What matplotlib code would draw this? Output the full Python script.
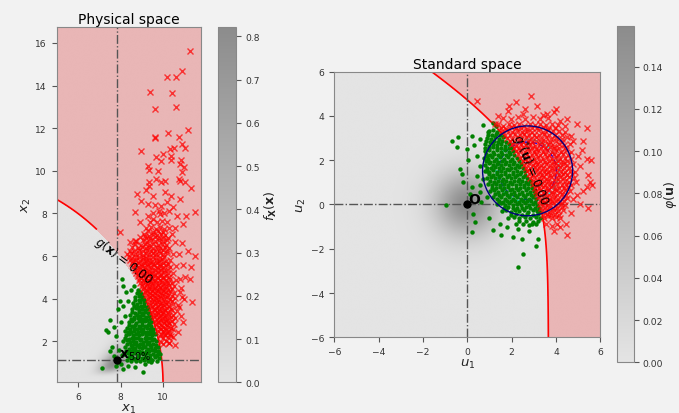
import numpy as np
import matplotlib
matplotlib.use("Agg")
import matplotlib.pyplot as plt
from matplotlib.colors import LinearSegmentedColormap
from matplotlib.patches import Circle

# probabilistic model (medians, log-std, correlation)
x1_median, x1_sigma = 7.83, 0.0668
x2_median, x2_sigma = 1.14, 0.412
rho = 0.49
radius = 10.0  # g(x) = r^2 - x1^2 - x2^2

# importance sampling circles in standard space
is_center = (2.72, 1.52)
is_radii = [2.03, 1.30, 1.42]
is_colors = ["navy", "blue", "cyan"]
is_styles = ["-", "--", "--"]

# samples in physical space: safe (green) and failed (red)
phys_safe = np.array([
    [7.50, 3.02], [7.30, 2.53], [7.42, 2.42], [7.70, 2.66], [7.81, 2.26], [7.89, 3.52], [8.05, 4.92],
    [8.12, 4.61], [8.28, 4.30], [7.97, 3.91], [8.12, 3.67], [7.58, 1.72], [7.50, 1.56], [7.11, 0.75],
    [7.81, 0.86], [7.89, 1.02], [8.12, 0.70], [8.36, 0.86], [8.67, 0.81], [9.06, 0.55], [8.75, 1.09],
    [9.14, 0.94], [9.45, 1.02], [9.61, 1.30], [9.76, 1.49], [8.00, 2.90], [7.95, 1.60], [8.20, 3.20],
    [8.35, 3.90], [8.50, 4.40], [8.65, 4.60], [8.20, 2.50], [8.05, 1.35], [7.70, 1.30], [8.00, 0.95],
    [8.30, 1.12], [8.50, 1.06], [8.70, 1.15], [8.90, 1.08], [9.10, 1.14], [9.30, 1.07], [9.50, 1.13], [9.70, 1.10],
    [8.40, 1.26], [8.60, 1.23], [8.80, 1.28], [9.00, 1.24], [9.20, 1.27], [9.40, 1.22], [9.60, 1.26], [9.80, 1.24],
    [8.15, 1.40], [8.35, 1.45], [8.50, 1.37], [8.65, 1.44], [8.80, 1.38], [8.95, 1.45], [9.10, 1.39],
    [9.25, 1.44], [9.40, 1.37], [9.55, 1.43], [9.70, 1.38], [9.85, 1.42],
    [8.28, 1.56], [8.43, 1.53], [8.58, 1.58], [8.73, 1.54], [8.88, 1.57], [9.03, 1.52], [9.18, 1.56],
    [9.33, 1.54], [9.48, 1.58], [9.63, 1.53], [9.78, 1.56],
    [8.20, 1.72], [8.40, 1.66], [8.55, 1.73], [8.70, 1.67], [8.85, 1.74], [9.00, 1.68], [9.15, 1.73],
    [9.30, 1.66], [9.45, 1.72], [9.60, 1.67], [9.75, 1.73],
    [8.30, 1.86], [8.48, 1.83], [8.63, 1.88], [8.78, 1.84], [8.93, 1.87], [9.08, 1.82], [9.23, 1.86],
    [9.38, 1.84], [9.53, 1.88], [9.68, 1.83],
    [8.10, 2.00], [8.30, 2.05], [8.45, 1.98], [8.60, 2.04], [8.75, 1.97], [8.90, 2.05], [9.05, 1.99],
    [9.20, 2.04], [9.35, 1.98], [9.50, 2.05], [9.65, 2.00],
    [8.20, 2.16], [8.38, 2.13], [8.53, 2.18], [8.68, 2.14], [8.83, 2.17], [8.98, 2.12], [9.13, 2.16],
    [9.28, 2.14], [9.43, 2.18], [9.58, 2.13],
    [8.25, 2.30], [8.42, 2.36], [8.58, 2.28], [8.73, 2.35], [8.88, 2.29], [9.03, 2.36], [9.18, 2.30],
    [9.33, 2.35], [9.48, 2.28], [9.60, 2.33],
    [8.35, 2.46], [8.50, 2.43], [8.65, 2.48], [8.80, 2.44], [8.95, 2.47], [9.10, 2.42], [9.25, 2.46],
    [9.40, 2.44], [9.55, 2.46],
    [8.30, 2.62], [8.47, 2.56], [8.63, 2.64], [8.78, 2.57], [8.93, 2.63], [9.08, 2.58], [9.23, 2.64],
    [9.38, 2.57], [9.52, 2.60],
    [8.40, 2.76], [8.55, 2.73], [8.70, 2.78], [8.85, 2.74], [9.00, 2.77], [9.15, 2.72], [9.30, 2.76], [9.45, 2.74],
    [8.40, 2.90], [8.56, 2.96], [8.72, 2.88], [8.87, 2.95], [9.02, 2.89], [9.17, 2.95], [9.32, 2.88], [9.45, 2.92],
    [8.50, 3.06], [8.65, 3.03], [8.80, 3.08], [8.95, 3.04], [9.10, 3.07], [9.25, 3.02], [9.40, 3.04],
    [8.45, 3.22], [8.62, 3.16], [8.78, 3.24], [8.93, 3.17], [9.08, 3.23], [9.22, 3.16], [9.36, 3.20],
    [8.55, 3.36], [8.70, 3.33], [8.85, 3.38], [9.00, 3.34], [9.15, 3.37], [9.30, 3.32],
    [8.55, 3.50], [8.72, 3.56], [8.88, 3.48], [9.03, 3.54], [9.17, 3.47], [9.30, 3.50],
    [8.62, 3.66], [8.80, 3.63], [8.96, 3.68], [9.12, 3.64], [9.24, 3.62],
    [8.60, 3.82], [8.78, 3.76], [8.94, 3.84], [9.10, 3.78],
    [8.70, 3.96], [8.86, 3.93], [9.00, 3.98], [9.12, 3.94],
    [8.70, 4.10], [8.88, 4.14], [9.02, 4.08], [8.78, 4.26], [8.95, 4.22], [8.80, 4.42], [8.90, 4.30],
])

phys_fail = np.array([
    [11.28, 15.61], [10.89, 14.69], [10.59, 14.42], [10.17, 14.39], [9.41, 13.68], [10.41, 13.63],
    [9.64, 12.89], [10.59, 13.00], [11.17, 11.94], [10.25, 11.77], [10.75, 11.61], [9.61, 11.61],
    [9.63, 11.53], [8.98, 10.94], [10.91, 11.25], [11.01, 11.05], [10.51, 11.05], [10.31, 11.02],
    [9.99, 10.78], [10.36, 10.70], [9.69, 10.63], [9.92, 10.47], [10.36, 10.52], [9.31, 10.23],
    [9.34, 10.05], [9.76, 10.00], [10.83, 10.52], [10.78, 10.31], [10.97, 10.16], [10.89, 9.93],
    [9.66, 9.61], [9.92, 9.46], [10.08, 9.53], [10.75, 9.61], [11.01, 9.46], [11.33, 9.19],
    [9.34, 9.46], [9.34, 9.27], [10.78, 9.53], [8.78, 8.91], [8.98, 8.59], [9.29, 8.44], [8.67, 8.05],
    [8.91, 7.58], [9.29, 7.89], [9.53, 7.74], [9.84, 7.97], [10.19, 8.52], [10.28, 8.13], [10.08, 8.99],
    [10.39, 8.83], [10.78, 8.67], [10.65, 7.89], [10.94, 7.50], [11.09, 7.89], [11.48, 8.05],
    [7.97, 7.14], [8.44, 6.64], [8.67, 6.72], [8.91, 6.88], [9.14, 6.95], [11.17, 6.25], [11.48, 6.02],
    [11.33, 5.47], [11.01, 5.00], [10.78, 4.92], [11.25, 4.92], [11.34, 3.83], [9.20, 9.10], [9.55, 8.80],
    [10.45, 8.30], [10.55, 7.30], [10.90, 6.60], [10.75, 6.10], [10.95, 5.60], [10.85, 4.50], [11.00, 4.00],
    [10.75, 3.60], [10.95, 2.90], [10.45, 2.20], [10.58, 1.84], [10.30, 1.90],
    [9.90, 1.95], [10.02, 1.88], [10.15, 2.00], [10.30, 1.93],
    [9.86, 2.25], [9.98, 2.18], [10.10, 2.30], [10.22, 2.20], [10.38, 2.27],
    [9.92, 2.36], [10.05, 2.33], [10.18, 2.38], [10.32, 2.34],
    [9.78, 2.50], [9.90, 2.56], [10.02, 2.47], [10.14, 2.55], [10.27, 2.50], [10.45, 2.58], [10.70, 2.45],
    [9.74, 2.66], [9.86, 2.63], [9.98, 2.68], [10.10, 2.64], [10.23, 2.67], [10.38, 2.62],
    [9.68, 2.80], [9.80, 2.86], [9.92, 2.77], [10.04, 2.84], [10.17, 2.78], [10.30, 2.87], [10.50, 2.80],
    [9.64, 2.96], [9.76, 2.93], [9.88, 2.98], [10.00, 2.94], [10.12, 2.97], [10.25, 2.92], [10.42, 2.96],
    [9.58, 3.12], [9.70, 3.06], [9.82, 3.15], [9.95, 3.08], [10.07, 3.14], [10.20, 3.05], [10.36, 3.12],
    [10.58, 3.10], [10.85, 3.20],
    [9.54, 3.26], [9.66, 3.23], [9.78, 3.28], [9.90, 3.24], [10.02, 3.27], [10.15, 3.22], [10.30, 3.26], [10.48, 3.24],
    [9.48, 3.40], [9.60, 3.46], [9.72, 3.37], [9.85, 3.44], [9.98, 3.38], [10.10, 3.46], [10.24, 3.39],
    [10.40, 3.45], [10.65, 3.42],
    [9.44, 3.56], [9.56, 3.53], [9.68, 3.58], [9.80, 3.54], [9.92, 3.57], [10.05, 3.52], [10.20, 3.56], [10.36, 3.54],
    [9.38, 3.72], [9.50, 3.66], [9.62, 3.75], [9.75, 3.68], [9.88, 3.76], [10.00, 3.69], [10.13, 3.74],
    [10.28, 3.67], [10.47, 3.74], [10.72, 3.70],
    [9.34, 3.86], [9.46, 3.83], [9.58, 3.88], [9.70, 3.84], [9.82, 3.87], [9.95, 3.82], [10.08, 3.86],
    [10.22, 3.84], [10.40, 3.88],
    [9.28, 4.00], [9.40, 4.06], [9.52, 3.98], [9.65, 4.05], [9.78, 3.97], [9.90, 4.04], [10.03, 3.99],
    [10.17, 4.07], [10.33, 4.00], [10.55, 4.03], [10.90, 4.10],
    [9.22, 4.16], [9.34, 4.13], [9.46, 4.18], [9.58, 4.14], [9.71, 4.17], [9.84, 4.12], [9.97, 4.16],
    [10.10, 4.14], [10.25, 4.18], [10.44, 4.14],
    [9.14, 4.30], [9.26, 4.36], [9.38, 4.28], [9.50, 4.35], [9.63, 4.27], [9.76, 4.34], [9.89, 4.29],
    [10.02, 4.36], [10.16, 4.30], [10.32, 4.35], [10.52, 4.28], [10.80, 4.33],
    [9.08, 4.46], [9.20, 4.43], [9.32, 4.48], [9.44, 4.44], [9.56, 4.47], [9.69, 4.42], [9.82, 4.46],
    [9.95, 4.44], [10.09, 4.48], [10.24, 4.43], [10.40, 4.46],
    [9.00, 4.62], [9.12, 4.56], [9.24, 4.64], [9.36, 4.58], [9.49, 4.65], [9.62, 4.57], [9.75, 4.63],
    [9.88, 4.56], [10.01, 4.64], [10.15, 4.58], [10.30, 4.65], [10.50, 4.60],
    [8.93, 4.76], [9.05, 4.73], [9.17, 4.78], [9.30, 4.74], [9.42, 4.77], [9.55, 4.72], [9.68, 4.76],
    [9.81, 4.74], [9.94, 4.78], [10.08, 4.73], [10.24, 4.76], [10.40, 4.74],
    [8.85, 4.90], [8.97, 4.96], [9.10, 4.88], [9.22, 4.95], [9.35, 4.87], [9.48, 4.94], [9.61, 4.88],
    [9.74, 4.96], [9.87, 4.89], [10.00, 4.95], [10.15, 4.88], [10.33, 4.94], [10.60, 4.90],
    [8.80, 5.06], [8.92, 5.03], [9.04, 5.08], [9.17, 5.04], [9.30, 5.07], [9.43, 5.02], [9.56, 5.06],
    [9.70, 5.04], [9.84, 5.08], [9.98, 5.03], [10.13, 5.06], [10.30, 5.04],
    [8.72, 5.22], [8.84, 5.16], [8.97, 5.24], [9.10, 5.17], [9.23, 5.25], [9.36, 5.18], [9.50, 5.23],
    [9.63, 5.16], [9.77, 5.24], [9.90, 5.18], [10.05, 5.25], [10.22, 5.19], [10.45, 5.22],
    [8.66, 5.36], [8.79, 5.33], [8.92, 5.38], [9.06, 5.34], [9.20, 5.37], [9.34, 5.32], [9.48, 5.36],
    [9.62, 5.34], [9.76, 5.38], [9.90, 5.33], [10.06, 5.36], [10.25, 5.34],
    [8.58, 5.50], [8.72, 5.56], [8.86, 5.48], [9.00, 5.55], [9.14, 5.47], [9.28, 5.54], [9.42, 5.49],
    [9.56, 5.56], [9.70, 5.48], [9.84, 5.55], [9.98, 5.50], [10.14, 5.57], [10.35, 5.50], [10.62, 5.55],
    [8.52, 5.66], [8.66, 5.63], [8.80, 5.68], [8.95, 5.64], [9.10, 5.67], [9.25, 5.62], [9.40, 5.66],
    [9.55, 5.64], [9.70, 5.68], [9.85, 5.63], [10.02, 5.66], [10.22, 5.64],
    [8.45, 5.82], [8.60, 5.76], [8.75, 5.84], [8.90, 5.77], [9.05, 5.85], [9.20, 5.78], [9.35, 5.83],
    [9.50, 5.76], [9.65, 5.84], [9.80, 5.78], [9.95, 5.85], [10.12, 5.79], [10.32, 5.84],
    [8.40, 5.96], [8.56, 5.93], [8.72, 5.98], [8.88, 5.94], [9.04, 5.97], [9.20, 5.92], [9.36, 5.96],
    [9.52, 5.94], [9.68, 5.98], [9.85, 5.93], [10.04, 5.96],
    [8.30, 6.10], [8.50, 6.16], [8.70, 6.08], [8.88, 6.15], [9.05, 6.07], [9.20, 6.14], [9.36, 6.09],
    [9.52, 6.16], [9.68, 6.08], [9.84, 6.14], [10.00, 6.10], [10.20, 6.16], [10.45, 6.10],
    [8.45, 6.26], [8.65, 6.23], [8.85, 6.28], [9.05, 6.24], [9.25, 6.27], [9.45, 6.22], [9.62, 6.26],
    [9.80, 6.24], [10.00, 6.28], [10.20, 6.23],
    [8.55, 6.42], [8.80, 6.36], [9.00, 6.44], [9.18, 6.38], [9.35, 6.45], [9.52, 6.37], [9.70, 6.43],
    [9.88, 6.38], [10.08, 6.44], [10.30, 6.40],
    [8.70, 6.56], [8.95, 6.53], [9.15, 6.58], [9.35, 6.54], [9.55, 6.57], [9.75, 6.52], [9.95, 6.56], [10.15, 6.54],
    [8.75, 6.70], [9.05, 6.76], [9.25, 6.68], [9.45, 6.75], [9.62, 6.69], [9.80, 6.76], [9.98, 6.70],
    [10.20, 6.74], [10.55, 6.68],
    [9.20, 6.86], [9.40, 6.83], [9.60, 6.88], [9.80, 6.84], [10.00, 6.87], [10.25, 6.84],
    [9.10, 7.02], [9.32, 6.96], [9.52, 7.04], [9.72, 6.98], [9.90, 7.05], [10.10, 6.99], [10.40, 7.03],
    [9.30, 7.16], [9.55, 7.13], [9.78, 7.18], [10.00, 7.14],
    [9.20, 7.30], [9.45, 7.36], [9.65, 7.28], [9.85, 7.35], [10.05, 7.29], [10.30, 7.34],
    [9.40, 7.62], [9.70, 7.58], [9.95, 7.65], [10.20, 7.60],
    [9.55, 8.02], [9.80, 8.10], [10.05, 8.00], [9.60, 8.40], [9.90, 8.35],
])

# samples in standard space
std_safe = np.array([
    [-0.97, -0.04], [-0.68, 2.86], [-0.41, 3.04], [-0.48, 2.62], [-0.03, 2.51], [0.20, 3.10], [0.72, 3.61],
    [-0.33, 1.61], [-0.25, 1.39], [-0.18, 1.01], [0.20, 0.79], [0.12, 0.48], [0.24, -0.42], [0.35, -0.77],
    [0.20, -1.24], [1.17, -1.17], [1.47, -0.87], [2.07, -1.47], [2.45, -1.55], [3.10, -1.88], [3.17, -1.55],
    [2.53, -2.22], [2.27, -2.82], [0.87, 0.33], [0.57, 0.56], [0.57, 0.86], [0.72, 1.16], [0.42, 2.21],
    [0.87, 2.21], [0.57, 2.96], [1.17, 3.69], [0.95, 3.27], [0.57, 1.76], [0.87, 1.53], [1.80, -1.00],
    [2.30, -1.10], [2.80, -1.20], [1.00, -0.60], [0.60, 0.10], [1.50, -1.40], [2.90, -0.90], [0.45, 1.30],
    [0.30, 2.70], [1.30, 3.55], [0.05, 2.00],
    [1.00, 3.30], [1.18, 3.35], [1.36, 3.27],
    [0.95, 3.16], [1.13, 3.13], [1.31, 3.18], [1.49, 3.14],
    [0.90, 3.02], [1.08, 2.96], [1.26, 3.04], [1.44, 2.97], [1.62, 3.03],
    [0.86, 2.86], [1.04, 2.83], [1.22, 2.88], [1.40, 2.84], [1.58, 2.87], [1.76, 2.84],
    [0.82, 2.72], [1.00, 2.66], [1.18, 2.74], [1.36, 2.67], [1.54, 2.73], [1.72, 2.66], [1.90, 2.72],
    [0.80, 2.56], [0.98, 2.53], [1.16, 2.58], [1.34, 2.54], [1.52, 2.57], [1.70, 2.52], [1.88, 2.56], [2.02, 2.54],
    [0.78, 2.40], [0.96, 2.46], [1.14, 2.38], [1.32, 2.45], [1.50, 2.37], [1.68, 2.44], [1.86, 2.38], [2.06, 2.43],
    [0.86, 2.26], [1.04, 2.23], [1.22, 2.28], [1.40, 2.24], [1.58, 2.27], [1.76, 2.22], [1.94, 2.26], [2.12, 2.24],
    [0.76, 2.12], [0.94, 2.06], [1.12, 2.14], [1.30, 2.07], [1.48, 2.13], [1.66, 2.06], [1.84, 2.14],
    [2.02, 2.07], [2.22, 2.12],
    [0.86, 1.96], [1.04, 1.93], [1.22, 1.98], [1.40, 1.94], [1.58, 1.97], [1.76, 1.92], [1.94, 1.96],
    [2.12, 1.94], [2.32, 1.98],
    [0.78, 1.80], [0.96, 1.86], [1.14, 1.78], [1.32, 1.85], [1.50, 1.77], [1.68, 1.84], [1.86, 1.78],
    [2.04, 1.85], [2.22, 1.77], [2.42, 1.83],
    [0.90, 1.66], [1.08, 1.63], [1.26, 1.68], [1.44, 1.64], [1.62, 1.67], [1.80, 1.62], [1.98, 1.66],
    [2.16, 1.64], [2.34, 1.68], [2.52, 1.63],
    [0.82, 1.52], [1.00, 1.46], [1.18, 1.54], [1.36, 1.47], [1.54, 1.53], [1.72, 1.46], [1.90, 1.54],
    [2.08, 1.47], [2.26, 1.53], [2.44, 1.46], [2.60, 1.52],
    [0.96, 1.36], [1.14, 1.33], [1.32, 1.38], [1.50, 1.34], [1.68, 1.37], [1.86, 1.32], [2.04, 1.36],
    [2.22, 1.34], [2.40, 1.38], [2.60, 1.33],
    [0.88, 1.20], [1.06, 1.26], [1.24, 1.18], [1.42, 1.25], [1.60, 1.17], [1.78, 1.24], [1.96, 1.18],
    [2.14, 1.25], [2.32, 1.17], [2.50, 1.24], [2.70, 1.19],
    [1.02, 1.06], [1.20, 1.03], [1.38, 1.08], [1.56, 1.04], [1.74, 1.07], [1.92, 1.02], [2.10, 1.06],
    [2.28, 1.04], [2.46, 1.08], [2.64, 1.03], [2.82, 1.06],
    [0.94, 0.92], [1.12, 0.86], [1.30, 0.94], [1.48, 0.87], [1.66, 0.93], [1.84, 0.86], [2.02, 0.94],
    [2.20, 0.87], [2.38, 0.93], [2.56, 0.86], [2.74, 0.93], [2.90, 0.88],
    [1.12, 0.76], [1.30, 0.73], [1.48, 0.78], [1.66, 0.74], [1.84, 0.77], [2.02, 0.72], [2.20, 0.76],
    [2.38, 0.74], [2.56, 0.78], [2.74, 0.73], [2.92, 0.76],
    [1.04, 0.60], [1.22, 0.66], [1.40, 0.58], [1.58, 0.65], [1.76, 0.57], [1.94, 0.64], [2.12, 0.58],
    [2.30, 0.65], [2.48, 0.57], [2.66, 0.64], [2.84, 0.58], [3.00, 0.63],
    [1.24, 0.46], [1.42, 0.43], [1.60, 0.48], [1.78, 0.44], [1.96, 0.47], [2.14, 0.42], [2.32, 0.46],
    [2.50, 0.44], [2.68, 0.48], [2.86, 0.43], [3.04, 0.46],
    [1.15, 0.32], [1.33, 0.26], [1.51, 0.34], [1.69, 0.27], [1.87, 0.33], [2.05, 0.26], [2.23, 0.34],
    [2.41, 0.27], [2.59, 0.33], [2.77, 0.26], [2.95, 0.33], [3.10, 0.27],
    [1.44, 0.16], [1.62, 0.13], [1.80, 0.18], [1.98, 0.14], [2.16, 0.17], [2.34, 0.12], [2.52, 0.16],
    [2.70, 0.14], [2.88, 0.18], [3.06, 0.13],
    [1.35, 0.00], [1.53, 0.06], [1.71, -0.02], [1.89, 0.05], [2.07, -0.03], [2.25, 0.04], [2.43, -0.02],
    [2.61, 0.05], [2.79, -0.03], [2.97, 0.04], [3.15, -0.01],
    [1.65, -0.16], [1.85, -0.13], [2.05, -0.18], [2.25, -0.14], [2.45, -0.17], [2.65, -0.12], [2.85, -0.16],
    [3.05, -0.14], [3.22, -0.18],
    [1.55, -0.30], [1.75, -0.24], [1.95, -0.32], [2.15, -0.25], [2.35, -0.31], [2.55, -0.24], [2.75, -0.32],
    [2.95, -0.25], [3.15, -0.30], [3.30, -0.35],
    [1.95, -0.46], [2.20, -0.43], [2.45, -0.48], [2.70, -0.44], [2.95, -0.47], [3.20, -0.42],
    [1.85, -0.60], [2.10, -0.55], [2.35, -0.63], [2.60, -0.56], [2.85, -0.62], [3.10, -0.57], [3.30, -0.62],
    [2.35, -0.76], [2.65, -0.73], [2.95, -0.78], [3.20, -0.74],
    [2.20, -0.90], [2.50, -0.86], [2.80, -0.92], [3.10, -0.87],
])

std_fail = np.array([
    [0.45, 4.66], [2.20, 4.65], [2.86, 4.89], [3.92, 4.20], [3.13, 4.47], [1.85, 4.24], [1.40, 4.02],
    [1.25, 3.64], [4.48, 3.87], [4.93, 3.64], [5.38, 3.45], [4.41, 3.56], [4.78, 2.89], [5.23, 2.89],
    [5.16, 2.44], [5.38, 2.06], [5.08, 1.76], [5.46, 1.31], [5.61, 0.86], [5.38, 0.79], [4.78, 0.26],
    [5.08, 0.03], [5.46, -0.16], [4.45, -0.87], [4.93, 0.41], [4.51, -1.37], [5.53, 1.01], [3.60, 4.10],
    [2.60, 4.30], [3.40, 4.05], [4.20, 3.75], [4.70, 3.10], [5.00, 2.20], [4.90, 1.00], [5.20, 0.60],
    [4.70, -0.40], [4.20, -1.00], [3.90, -1.20], [5.60, 2.00], [4.00, 4.30], [2.50, 4.10], [1.90, 4.45],
    [1.62, 3.92], [1.95, 3.86], [2.30, 3.95], [2.62, 3.88], [2.95, 3.94], [3.30, 3.87], [3.65, 3.93],
    [1.38, 3.62], [1.62, 3.56], [1.86, 3.64], [2.10, 3.57], [2.34, 3.63], [2.58, 3.56], [2.82, 3.64],
    [3.06, 3.58], [3.30, 3.63], [3.56, 3.57], [3.82, 3.62], [4.10, 3.58],
    [1.50, 3.46], [1.73, 3.43], [1.96, 3.48], [2.20, 3.44], [2.44, 3.47], [2.68, 3.42], [2.92, 3.46],
    [3.16, 3.44], [3.40, 3.48], [3.66, 3.43], [3.94, 3.46],
    [1.58, 3.30], [1.80, 3.36], [2.02, 3.28], [2.25, 3.35], [2.48, 3.27], [2.71, 3.34], [2.94, 3.28],
    [3.17, 3.35], [3.40, 3.29], [3.63, 3.36], [3.88, 3.30], [4.15, 3.34], [4.40, 3.27],
    [1.70, 3.16], [1.92, 3.13], [2.14, 3.18], [2.36, 3.14], [2.58, 3.17], [2.80, 3.12], [3.02, 3.16],
    [3.24, 3.14], [3.46, 3.18], [3.70, 3.13], [3.96, 3.16], [4.25, 3.14],
    [1.78, 3.02], [2.00, 2.96], [2.22, 3.04], [2.44, 2.97], [2.66, 3.03], [2.88, 2.96], [3.10, 3.04],
    [3.32, 2.97], [3.54, 3.03], [3.76, 2.96], [4.00, 3.02], [4.25, 2.97], [4.50, 3.04],
    [1.92, 2.86], [2.12, 2.83], [2.32, 2.88], [2.52, 2.84], [2.72, 2.87], [2.92, 2.82], [3.12, 2.86],
    [3.32, 2.84], [3.52, 2.88], [3.74, 2.83], [3.98, 2.86], [4.25, 2.84],
    [2.00, 2.72], [2.21, 2.66], [2.42, 2.74], [2.63, 2.67], [2.84, 2.73], [3.05, 2.66], [3.26, 2.74],
    [3.47, 2.67], [3.68, 2.73], [3.90, 2.66], [4.12, 2.72], [4.36, 2.67], [4.62, 2.73],
    [2.12, 2.56], [2.32, 2.53], [2.52, 2.58], [2.72, 2.54], [2.92, 2.57], [3.12, 2.52], [3.32, 2.56],
    [3.52, 2.54], [3.72, 2.58], [3.92, 2.53], [4.14, 2.56], [4.40, 2.54],
    [2.20, 2.40], [2.40, 2.46], [2.60, 2.38], [2.80, 2.45], [3.00, 2.37], [3.20, 2.44], [3.40, 2.38],
    [3.60, 2.45], [3.80, 2.37], [4.00, 2.44], [4.22, 2.39], [4.45, 2.45], [4.70, 2.38],
    [2.30, 2.26], [2.50, 2.23], [2.70, 2.28], [2.90, 2.24], [3.10, 2.27], [3.30, 2.22], [3.50, 2.26],
    [3.70, 2.24], [3.90, 2.28], [4.10, 2.23], [4.32, 2.26], [4.56, 2.24],
    [2.40, 2.12], [2.60, 2.06], [2.80, 2.14], [3.00, 2.07], [3.20, 2.13], [3.40, 2.06], [3.60, 2.14],
    [3.80, 2.07], [4.00, 2.13], [4.20, 2.06], [4.42, 2.12], [4.66, 2.07],
    [2.50, 1.96], [2.70, 1.93], [2.90, 1.98], [3.10, 1.94], [3.30, 1.97], [3.50, 1.92], [3.70, 1.96],
    [3.90, 1.94], [4.10, 1.98], [4.30, 1.93], [4.52, 1.96],
    [2.58, 1.80], [2.77, 1.86], [2.96, 1.78], [3.15, 1.85], [3.34, 1.77], [3.53, 1.84], [3.72, 1.78],
    [3.91, 1.85], [4.10, 1.77], [4.30, 1.84], [4.52, 1.79], [4.78, 1.83],
    [2.66, 1.66], [2.85, 1.63], [3.04, 1.68], [3.23, 1.64], [3.42, 1.67], [3.61, 1.62], [3.80, 1.66],
    [3.99, 1.64], [4.18, 1.68], [4.38, 1.63], [4.60, 1.66],
    [2.70, 1.52], [2.89, 1.46], [3.08, 1.54], [3.27, 1.47], [3.46, 1.53], [3.65, 1.46], [3.84, 1.54],
    [4.03, 1.47], [4.22, 1.53], [4.42, 1.46], [4.62, 1.52], [4.85, 1.48],
    [2.80, 1.36], [2.98, 1.33], [3.17, 1.38], [3.36, 1.34], [3.55, 1.37], [3.74, 1.32], [3.93, 1.36],
    [4.12, 1.34], [4.32, 1.38], [4.52, 1.33], [4.72, 1.36],
    [2.84, 1.20], [3.03, 1.26], [3.22, 1.18], [3.41, 1.25], [3.60, 1.17], [3.79, 1.24], [3.98, 1.18],
    [4.17, 1.25], [4.37, 1.19], [4.58, 1.24], [4.80, 1.20],
    [2.95, 1.06], [3.12, 1.03], [3.30, 1.08], [3.48, 1.04], [3.66, 1.07], [3.84, 1.02], [4.02, 1.06],
    [4.20, 1.04], [4.40, 1.08], [4.60, 1.03],
    [2.98, 0.92], [3.16, 0.86], [3.34, 0.94], [3.52, 0.87], [3.70, 0.93], [3.88, 0.86], [4.06, 0.94],
    [4.25, 0.87], [4.45, 0.93], [4.68, 0.88],
    [3.06, 0.76], [3.24, 0.73], [3.42, 0.78], [3.60, 0.74], [3.78, 0.77], [3.96, 0.72], [4.14, 0.76],
    [4.34, 0.74], [4.55, 0.78],
    [3.10, 0.60], [3.28, 0.66], [3.46, 0.58], [3.64, 0.65], [3.82, 0.57], [4.00, 0.64], [4.20, 0.58],
    [4.40, 0.65], [4.62, 0.60],
    [3.16, 0.46], [3.34, 0.43], [3.52, 0.48], [3.70, 0.44], [3.88, 0.47], [4.06, 0.42], [4.26, 0.46], [4.46, 0.44],
    [3.20, 0.32], [3.38, 0.26], [3.56, 0.34], [3.74, 0.27], [3.92, 0.33], [4.10, 0.26], [4.30, 0.32], [4.52, 0.28],
    [3.26, 0.16], [3.44, 0.13], [3.62, 0.18], [3.80, 0.14], [3.98, 0.17], [4.16, 0.12], [4.36, 0.16],
    [3.30, 0.00], [3.48, 0.06], [3.66, -0.02], [3.84, 0.05], [4.02, -0.03], [4.22, 0.04], [4.42, -0.01],
    [3.34, -0.16], [3.52, -0.13], [3.70, -0.18], [3.88, -0.14], [4.06, -0.17], [4.26, -0.12],
    [3.36, -0.30], [3.54, -0.24], [3.72, -0.32], [3.90, -0.25], [4.08, -0.31], [4.30, -0.26],
    [3.42, -0.46], [3.60, -0.43], [3.78, -0.48], [3.96, -0.44], [4.15, -0.47],
    [3.44, -0.60], [3.62, -0.54], [3.80, -0.62], [4.00, -0.56], [4.20, -0.63],
    [3.55, -0.90], [3.80, -0.95], [4.05, -0.88],
])


def g(x1, x2):
    return radius ** 2 - x1 ** 2 - x2 ** 2


def u_to_x(u1, u2):
    z2 = rho * u1 + np.sqrt(1 - rho ** 2) * u2
    return x1_median * np.exp(x1_sigma * u1), x2_median * np.exp(x2_sigma * z2)


def f_x(x1, x2):
    z1 = np.log(x1 / x1_median) / x1_sigma
    z2 = np.log(x2 / x2_median) / x2_sigma
    q = (z1 ** 2 - 2 * rho * z1 * z2 + z2 ** 2) / (1 - rho ** 2)
    phi2 = np.exp(-q / 2) / (2 * np.pi * np.sqrt(1 - rho ** 2))
    return phi2 / (x1_sigma * x1 * x2_sigma * x2)


plt.rcParams.update({
    "font.family": "DejaVu Sans",
    "figure.facecolor": "#f2f2f2",
    "axes.edgecolor": "#888888",
    "xtick.color": "#555555",
    "ytick.color": "#555555",
    "xtick.labelcolor": "#333333",
    "ytick.labelcolor": "#333333",
    "xtick.labelsize": 6.6,
    "ytick.labelsize": 6.6,
    "axes.labelcolor": "#222222",
})

grey_map = LinearSegmentedColormap.from_list("greys_soft", ["#e4e4e4", "#8c8c8c"])
safe_style = dict(ls="none", marker="o", color="green", ms=3.2, mec="none")
fail_style = dict(ls="none", marker="x", color="red", ms=4.2, mew=1.0, alpha=0.72)

fig = plt.figure(figsize=(6.79, 4.14), dpi=100)
ax1 = fig.add_axes([0.0835, 0.0742, 0.2130, 0.8582])
cax1 = fig.add_axes([0.3215, 0.0742, 0.0256, 0.8582])
ax2 = fig.add_axes([0.4923, 0.1829, 0.3918, 0.6415])
cax2 = fig.add_axes([0.9083, 0.1225, 0.0259, 0.8116])

#%% physical space
xlim1, ylim1 = (5.0, 11.8), (0.08, 16.75)
gx1 = np.linspace(*xlim1, 400)
gx2 = np.linspace(*ylim1, 900)
X1, X2 = np.meshgrid(gx1, gx2)
FX = f_x(X1, X2)
GX = g(X1, X2)

im1 = ax1.imshow(FX, extent=[*xlim1, *ylim1], origin="lower", cmap=grey_map,
                 aspect="auto", vmin=0, interpolation="bilinear")
ax1.contourf(X1, X2, GX, levels=[GX.min() - 1, 0], colors="red", alpha=0.2)
cs1 = ax1.contour(X1, X2, GX, levels=[0], colors="red", linewidths=1.2)
lab1 = ax1.clabel(cs1, fmt=lambda v: r"$g(\mathbf{x})$ = %.2f" % abs(v),
                  manual=[(8.1, 5.85)], fontsize=8.5, colors="k", inline=True)
ax1.axvline(x1_median, color="#555555", ls="-.", lw=1)
ax1.axhline(x2_median, color="#555555", ls="-.", lw=1)
ax1.plot(phys_safe[:, 0], phys_safe[:, 1], **safe_style)
ax1.plot(phys_fail[:, 0], phys_fail[:, 1], **fail_style)
ax1.plot(x1_median, x2_median, "o", color="k", ms=5, zorder=6)
ax1.text(x1_median + 0.08, x2_median + 0.12, r"$\mathbf{x}_{50\%}$", fontsize=10, zorder=6)
for t in lab1:
    t.set_rotation(-37)
    t.set_position((8.15, 5.8))
    t.set_zorder(7)
ax1.set_xlim(*xlim1)
ax1.set_ylim(*ylim1)
ax1.set_xticks([6, 8, 10])
ax1.set_yticks(np.arange(2, 17, 2))
ax1.set_xlabel(r"$x_1$", fontsize=9.5, labelpad=1)
ax1.set_ylabel(r"$x_2$", fontsize=9.5, labelpad=2)
ax1.set_title("Physical space", fontsize=10, pad=3)

cb1 = fig.colorbar(im1, cax=cax1)
cb1.set_ticks(np.arange(0, 0.81, 0.1))
cb1.ax.yaxis.set_major_formatter(matplotlib.ticker.FormatStrFormatter("%.1f"))
cb1.outline.set_edgecolor("#888888")
cb1.set_label(r"$f_{\mathbf{X}}(\mathbf{x})$", fontsize=9, labelpad=2)

#%% standard space
gu = np.linspace(-6, 6, 600)
U1, U2 = np.meshgrid(gu, gu)
PHI = np.exp(-(U1 ** 2 + U2 ** 2) / 2) / (2 * np.pi)
GU = g(*u_to_x(U1, U2))

im2 = ax2.imshow(PHI, extent=[-6, 6, -6, 6], origin="lower", cmap=grey_map,
                 aspect="auto", vmin=0, interpolation="bilinear")
ax2.contourf(U1, U2, GU, levels=[GU.min() - 1, 0], colors="red", alpha=0.2)
cs2 = ax2.contour(U1, U2, GU, levels=[0], colors="red", linewidths=1.2)
lab2 = ax2.clabel(cs2, fmt=lambda v: r"$g^{*}(\mathbf{u})$ = %.2f" % abs(v),
                  manual=[(2.8, 1.4)], fontsize=8.5, colors="k", inline=True)
ax2.axvline(0, color="#555555", ls="-.", lw=1)
ax2.axhline(0, color="#555555", ls="-.", lw=1)
for r, c, s in zip(is_radii[1:], is_colors[1:], is_styles[1:]):
    ax2.add_patch(Circle(is_center, r, fill=False, ec=c, ls=s, lw=1))
ax2.plot(std_safe[:, 0], std_safe[:, 1], **safe_style)
ax2.plot(std_fail[:, 0], std_fail[:, 1], **fail_style)
ax2.add_patch(Circle(is_center, is_radii[0], fill=False, ec=is_colors[0], ls=is_styles[0], lw=1, zorder=5))
ax2.plot(0, 0, "o", color="k", ms=5, zorder=6)
ax2.text(0.05, 0.08, "O", fontsize=10, fontweight="bold", zorder=6)
for t in lab2:
    t.set_rotation(-68)
    t.set_position((2.83, 1.6))
    t.set_zorder(7)
ax2.set_xlim(-6, 6)
ax2.set_ylim(-6, 6)
ax2.set_xticks(np.arange(-6, 7, 2))
ax2.set_yticks(np.arange(-6, 7, 2))
ax2.set_xlabel(r"$u_1$", fontsize=9.5, labelpad=1)
ax2.set_ylabel(r"$u_2$", fontsize=9.5, labelpad=2)
ax2.set_title("Standard space", fontsize=10, pad=3)

cb2 = fig.colorbar(im2, cax=cax2)
cb2.set_ticks(np.arange(0, 0.141, 0.02))
cb2.ax.yaxis.set_major_formatter(matplotlib.ticker.FormatStrFormatter("%.2f"))
cb2.ax.tick_params(pad=2)
cb2.outline.set_edgecolor("#888888")
cb2.set_label(r"$\varphi(\mathbf{u})$", fontsize=9, labelpad=0)

fig.savefig("out.png", dpi=100, facecolor=fig.get_facecolor())
